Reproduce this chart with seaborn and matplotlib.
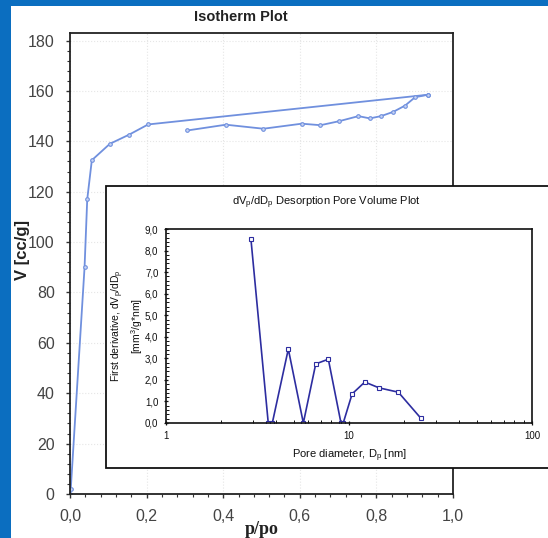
import numpy as np
import pandas as pd
import matplotlib
matplotlib.use("Agg")
import matplotlib.pyplot as plt
import seaborn as sns
from matplotlib.patches import Rectangle
from matplotlib.ticker import MultipleLocator, LogLocator, NullFormatter, FixedFormatter, FixedLocator

# ----------------------------------------------------------
# Data
# ----------------------------------------------------------
ads_p = [0.0, 0.002, 0.038, 0.045, 0.057, 0.104, 0.155, 0.204, 0.935]
ads_v = [0.0, 2.0, 90.0, 117.0, 132.5, 139.0, 142.7, 146.7, 158.5]

des_p = [0.935, 0.901, 0.875, 0.844, 0.812, 0.783, 0.753, 0.703, 0.654, 0.605, 0.505, 0.407, 0.306]
des_v = [158.5, 157.5, 154.2, 151.7, 150.0, 149.1, 150.0, 148.0, 146.4, 147.0, 145.0, 146.6, 144.3]

pore_d = [2.91, 3.62, 3.81, 4.66, 5.63, 6.58, 7.71, 9.04, 9.30, 10.4, 12.2, 14.6, 18.6, 24.7]
pore_dv = [8.55, 0.0, 0.0, 3.43, 0.0, 2.74, 2.96, 0.0, 0.0, 1.35, 1.90, 1.63, 1.43, 0.22]

main_yticks = [0, 20, 40, 60, 80, 100, 120, 140, 160, 180]
main_xticks = [0.0, 0.2, 0.4, 0.6, 0.8, 1.0]
inset_yticks = [0, 1, 2, 3, 4, 5, 6, 7, 8, 9]
inset_xticks = [1, 10, 100]

# ----------------------------------------------------------
# Style
# ----------------------------------------------------------
sns.set_theme(style="white")
plt.rcParams["font.family"] = ["Liberation Sans", "DejaVu Sans"]
plt.rcParams["mathtext.fontset"] = "custom"
plt.rcParams["mathtext.rm"] = "Liberation Sans"
plt.rcParams["mathtext.it"] = "Liberation Sans"
plt.rcParams["mathtext.bf"] = "Liberation Sans:bold"
plt.rcParams["mathtext.default"] = "rm"

W, H = 548, 538
fig = plt.figure(figsize=(W / 100, H / 100), dpi=100)
fig.patch.set_facecolor("#0B6EC0")

# white panel inside the blue frame (blue strip on top and left)
fig.add_artist(Rectangle((11 / W, 0), 1, (H - 6) / H, transform=fig.transFigure,
                         facecolor="white", edgecolor="none", zorder=-5))

def fx(px):
    return px / W

def fy(py):
    return 1 - py / H

comma = lambda v, n: f"{v:.{n}f}".replace(".", ",")

# ----------------------------------------------------------
# Main isotherm plot
# ----------------------------------------------------------
ax = fig.add_axes([fx(70), fy(494), fx(453) - fx(70), fy(33) - fy(494)])
ax.set_facecolor("white")
iso_col = "#7090DE"
for px, vy in [(ads_p, ads_v), (des_p, des_v)]:
    sns.lineplot(x=px, y=vy, ax=ax, sort=False, estimator=None, color=iso_col,
                 lw=1.3, marker="o", markersize=2.6, markerfacecolor="#c8d4f4",
                 markeredgecolor=iso_col, markeredgewidth=0.8)

ax.set_xlim(0, 1.0)
ax.set_ylim(0, 183)
ax.set_xticks(main_xticks)
ax.set_xticklabels([comma(v, 1) for v in main_xticks])
ax.set_yticks(main_yticks)
ax.set_yticklabels([str(v) for v in main_yticks])
ax.xaxis.set_minor_locator(MultipleLocator(0.04))
ax.yaxis.set_minor_locator(MultipleLocator(4))
ax.tick_params(axis="both", which="major", labelsize=11.5, colors="#333333",
               labelcolor="#444444", length=3, width=1, direction="out", pad=8,
               bottom=True, left=True)
ax.tick_params(axis="both", which="minor", length=2, width=0.8, color="#333333",
               direction="out", bottom=True, left=True)
ax.grid(True, which="major", color="#e6e6e6", ls=":", lw=0.8)
for s in ax.spines.values():
    s.set_color("#222222")
    s.set_linewidth(1.3)
ax.set_xlabel("")
ax.set_ylabel("")

fig.text(fx(241), fy(17), "Isotherm Plot", ha="center", va="center",
         fontsize=10.5, fontweight="bold", color="#222222")
fig.text(fx(262), fy(530), "p/po", ha="center", va="center", fontsize=13,
         fontweight="bold", family=["Liberation Serif", "DejaVu Serif"], color="#222222")
fig.text(fx(23), fy(250), "V [cc/g]", ha="center", va="center", rotation=90,
         fontsize=12, fontweight="bold", color="#222222")

# ----------------------------------------------------------
# Inset: pore volume plot
# ----------------------------------------------------------
box = Rectangle((fx(106), fy(468)), 1.0, fy(186) - fy(468), transform=fig.transFigure,
                facecolor="white", edgecolor="#111111", lw=1.3, zorder=2)
fig.add_artist(box)

ins = fig.add_axes([fx(166), fy(423), fx(532) - fx(166), fy(229) - fy(423)])
ins.set_zorder(3)
ins.set_facecolor("white")
pv_col = "#2D2DA0"
sns.lineplot(x=pore_d, y=pore_dv, ax=ins, sort=False, estimator=None, color=pv_col,
             lw=1.2, marker="s", markersize=3, markerfacecolor="white",
             markeredgecolor=pv_col, markeredgewidth=0.8)
ins.set_xscale("log")
ins.set_xlim(1, 100)
ins.set_ylim(0, 9)
ins.xaxis.set_major_locator(FixedLocator(inset_xticks))
ins.xaxis.set_major_formatter(FixedFormatter([str(v) for v in inset_xticks]))
ins.xaxis.set_minor_locator(LogLocator(base=10, subs=np.arange(2, 10)))
ins.xaxis.set_minor_formatter(NullFormatter())
ins.set_yticks(inset_yticks)
ins.set_yticklabels([comma(v, 1) for v in inset_yticks])
ins.yaxis.set_minor_locator(MultipleLocator(0.2))
ins.tick_params(axis="both", which="major", labelsize=7, colors="#111111",
                length=3, width=0.9, direction="inout", pad=4, bottom=True, left=True)
ins.tick_params(axis="both", which="minor", length=2, width=0.7, color="#111111",
                direction="in", bottom=True, left=True)
for s in ins.spines.values():
    s.set_color("#111111")
    s.set_linewidth(1.2)
ins.set_xlabel(r"Pore diameter, D$_p$ [nm]", fontsize=8, color="#111111", labelpad=5)
ins.set_ylabel("First derivative, dV$_p$/dD$_p$\n[mm$^3$/g*nm]", fontsize=7.5,
               color="#111111", labelpad=0, linespacing=1.3)

fig.text(fx(326), fy(203), r"dV$_p$/dD$_p$ Desorption Pore Volume Plot", ha="center",
         va="center", fontsize=8, color="#111111", zorder=4)

fig.savefig("out.png", dpi=100, facecolor=fig.get_facecolor())
